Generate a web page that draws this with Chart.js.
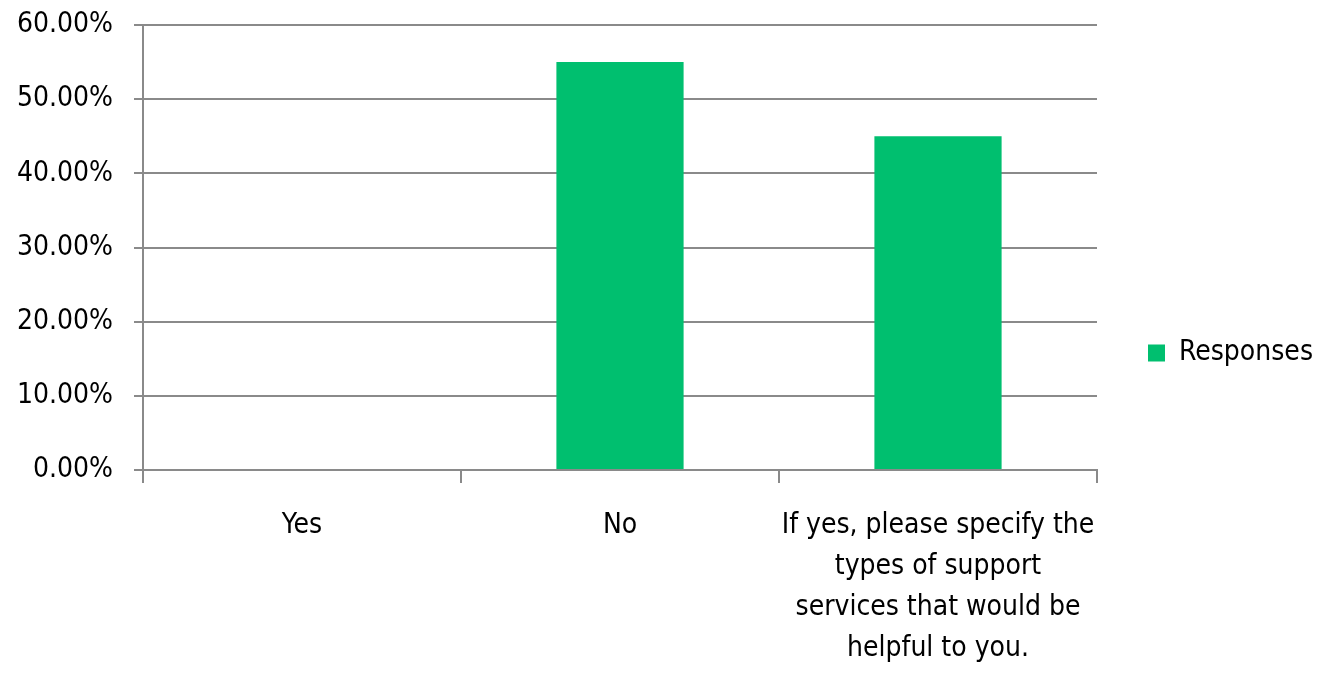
<!DOCTYPE html>
<html lang="en">
<head>
    <meta charset="UTF-8">
    <title>Responses</title>
    <style>
        html, body { margin: 0; padding: 0; background: #fff; }
        #wrap { width: 1333px; height: 687px; position: relative; }
    </style>
    <script src="https://cdn.jsdelivr.net/npm/chart.js"></script>
</head>
<body>
    <div id="wrap"><canvas id="responseChart"></canvas></div>

    <script>
        // Categories and values (percent)
        const categories = [
            'Yes',
            'No',
            ['If yes, please specify the', 'types of support', 'services that would be', 'helpful to you.']
        ];
        const responses = [0, 55, 45];
        const yTicks = [0, 10, 20, 30, 40, 50, 60];

        const fontName = '"Liberation Sans Narrow", "DejaVu Sans Condensed", "Liberation Sans", sans-serif';
        const gridColor = '#8a8a8a';

        const ctx = document.getElementById('responseChart').getContext('2d');
        new Chart(ctx, {
            type: 'bar',
            data: {
                labels: categories,
                datasets: [{
                    label: 'Responses',
                    data: responses,
                    backgroundColor: '#00bf6f',
                    borderWidth: 0,
                    categoryPercentage: 1,
                    barPercentage: 0.4
                }]
            },
            options: {
                responsive: true,
                maintainAspectRatio: false,
                animation: false,
                layout: { padding: { top: 25, right: 10, left: 0, bottom: 6 } },
                plugins: {
                    tooltip: { enabled: false },
                    legend: {
                        position: 'right',
                        labels: {
                            color: '#000',
                            font: { family: fontName, size: 28 },
                            boxWidth: 17,
                            boxHeight: 17,
                            padding: 51
                        }
                    }
                },
                scales: {
                    x: {
                        grid: {
                            drawOnChartArea: false,
                            color: gridColor,
                            lineWidth: 2,
                            tickLength: 13
                        },
                        border: { color: gridColor, width: 2 },
                        ticks: {
                            color: '#000',
                            font: { family: fontName, size: 28, lineHeight: 1.464 },
                            padding: 22,
                            maxRotation: 0,
                            autoSkip: false
                        },
                        afterFit: function (scale) { scale.height = 211; }
                    },
                    y: {
                        min: 0,
                        max: 60,
                        grid: {
                            color: gridColor,
                            lineWidth: 2,
                            tickLength: 9
                        },
                        border: { color: gridColor, width: 2 },
                        afterBuildTicks: function (scale) {
                            scale.ticks = yTicks.map(v => ({ value: v }));
                        },
                        ticks: {
                            color: '#000',
                            font: { family: fontName, size: 28 },
                            padding: 21,
                            callback: function (value) { return value.toFixed(2) + '%'; }
                        },
                        afterFit: function (scale) {
                            scale.width = 143;
                            scale.paddingTop = 0;
                            scale.paddingBottom = 0;
                        }
                    }
                }
            }
        });
    </script>
</body>
</html>
